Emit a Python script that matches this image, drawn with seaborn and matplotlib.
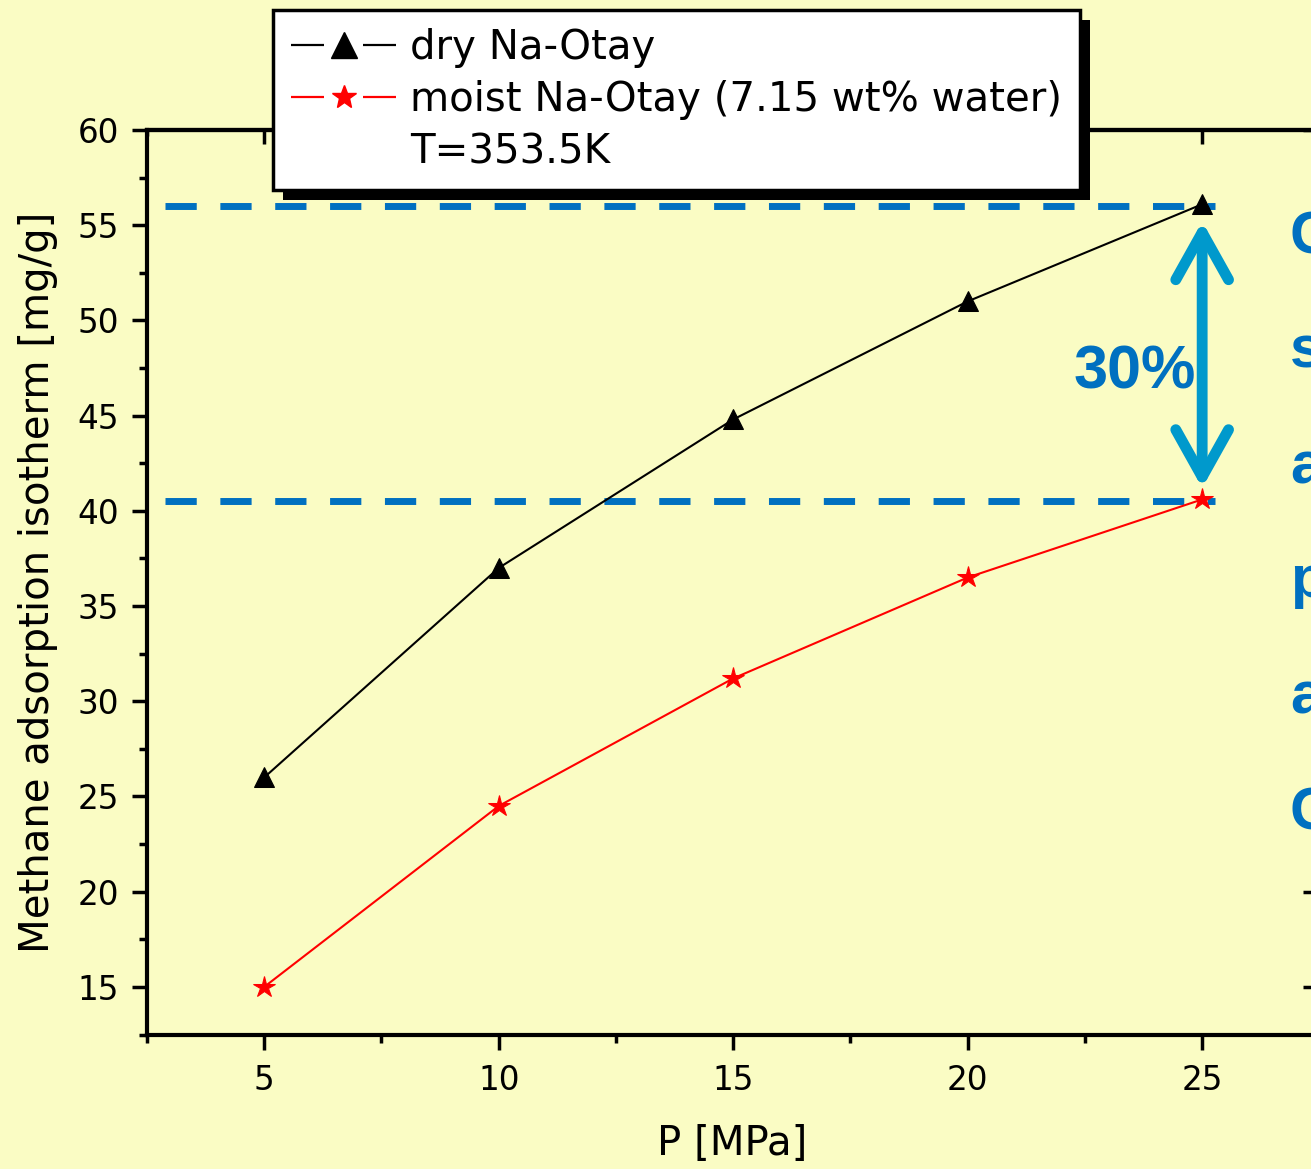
import matplotlib
matplotlib.use('Agg')
import matplotlib.pyplot as plt
import seaborn as sns
import pandas as pd
from matplotlib.lines import Line2D
from matplotlib.patches import Rectangle
from matplotlib.ticker import MultipleLocator

# ---------------- data ----------------
pressure = [5, 10, 15, 20, 25]
dry_uptake = [26.0, 37.0, 44.8, 51.0, 56.1]
moist_uptake = [15.0, 24.5, 31.2, 36.5, 40.6]
dry_label = "dry Na-Otay"
moist_label = "moist Na-Otay (7.15 wt% water)"
temp_label = "T=353.5K"
x_label = "P [MPa]"
y_label = "Methane adsorption isotherm [mg/g]"
ref_high = 56.0
ref_low = 40.5
ref_x = [2.88, 25.27]
arrow_x = 25
arrow_top = 55.2
arrow_bottom = 41.2
pct_label = "30%"
side_letters = ["C", "s", "a", "p", "a", "C"]
side_baselines = [253, 368, 483, 597, 713, 830]

# ---------------- style ----------------
BG = '#FAFCC4'
BLUE = '#0070C0'
ARROW = '#0099CC'
sns.set_theme(style='white')
plt.rcParams['font.family'] = ['DejaVu Sans']
plt.rcParams.update({'text.color': 'black', 'axes.labelcolor': 'black',
                     'xtick.color': 'black', 'ytick.color': 'black',
                     'axes.edgecolor': 'black'})

W, H = 1311, 1169
fig = plt.figure(figsize=(W / 100, H / 100), dpi=100, facecolor=BG)
ax = fig.add_axes([147 / W, (H - 1034.5) / H, (1318 - 147) / W, (1034.5 - 130) / H])
ax.set_facecolor(BG)

df = pd.DataFrame({'P': pressure, 'dry': dry_uptake, 'moist': moist_uptake})
sns.lineplot(data=df, x='P', y='dry', ax=ax, color='black', lw=1.5,
             marker='^', markersize=15, markeredgecolor='black', legend=False, zorder=4)
sns.lineplot(data=df, x='P', y='moist', ax=ax, color='red', lw=1.5,
             marker='*', markersize=16, markeredgecolor='red', legend=False, zorder=4)

# reference dashed lines
for yv in (ref_high, ref_low):
    ax.plot(ref_x, [yv, yv], color=BLUE, lw=5, ls=(0, (4.5, 3.4)),
            solid_capstyle='butt', dash_capstyle='butt', zorder=3)

# double arrow
ax.annotate('', xy=(arrow_x, arrow_top), xytext=(arrow_x, arrow_bottom),
            arrowprops=dict(arrowstyle='<->,head_length=1.7,head_width=0.95',
                            color=ARROW, lw=7.8, shrinkA=0, shrinkB=0,
                            mutation_scale=20, capstyle='round', joinstyle='round'),
            zorder=5)

ax.set_xlim(2.5, 27.47)
ax.set_ylim(12.5, 60)
ax.xaxis.set_major_locator(MultipleLocator(5))
ax.xaxis.set_minor_locator(MultipleLocator(2.5))
ax.yaxis.set_major_locator(MultipleLocator(5))
ax.yaxis.set_minor_locator(MultipleLocator(2.5))
ax.tick_params(which='major', direction='out', length=11, width=2.5, labelsize=23.5,
               bottom=True, left=True, top=False, right=False)
ax.tick_params(axis='x', which='major', pad=10)
ax.tick_params(axis='y', which='major', pad=9)
ax.tick_params(which='minor', direction='out', length=6, width=2.5,
               bottom=True, left=True, top=False, right=False)
for sp in ax.spines.values():
    sp.set_linewidth(3)
    sp.set_color('black')

secx = ax.secondary_xaxis('top')
secx.xaxis.set_major_locator(MultipleLocator(5))
secx.xaxis.set_minor_locator(MultipleLocator(2.5))
secx.tick_params(axis='x', which='major', direction='in', length=10, width=2.5, top=True,
                 labeltop=False, labelbottom=False)
secx.tick_params(axis='x', which='minor', direction='in', length=4, width=2.5, top=True)
secx.spines['top'].set_linewidth(3)
secy = ax.secondary_yaxis('right')
secy.yaxis.set_major_locator(MultipleLocator(5))
secy.yaxis.set_minor_locator(MultipleLocator(2.5))
secy.tick_params(axis='y', which='major', direction='in', length=11, width=2.5, right=True,
                 labelright=False, labelleft=False)
secy.tick_params(axis='y', which='minor', direction='in', length=4, width=2.5, right=True)
secy.spines['right'].set_linewidth(3)

ax.set_xlabel(x_label, fontsize=29, labelpad=20)
ax.set_ylabel(y_label, fontsize=29, labelpad=14)

# legend (line broken around marker, as in the reference)
FS = 29
hl_px = 105.0
lw_leg = 1.6
lw_px = lw_leg * 100 / 72
seg = 33.0 / lw_px
gap = 39.0 / lw_px
h1 = Line2D([], [], color='black', lw=lw_leg, ls=(0, (seg, gap, seg, 100)),
            marker='^', markersize=19)
h2 = Line2D([], [], color='red', lw=lw_leg, ls=(0, (seg, gap, seg, 100)),
            marker='*', markersize=18)
h3 = Line2D([], [], color='none', marker='None')
leg = ax.legend(handles=[h1, h2, h3], labels=[dry_label, moist_label, temp_label],
                loc='upper left', bbox_to_anchor=(273 / W, 1 - 10 / H),
                bbox_transform=fig.transFigure, fontsize=FS, frameon=True,
                fancybox=False, edgecolor='black', facecolor='white', framealpha=1,
                borderpad=0.45, handlelength=hl_px / (FS * 100 / 72), handletextpad=0.35,
                labelspacing=0.3, borderaxespad=0)
leg.get_frame().set_linewidth(2.5)
leg.set_zorder(10)

fig.canvas.draw()
bb = leg.get_window_extent()
shadow = Rectangle(((bb.x0 + 10) / W, (bb.y0 - 10) / H), bb.width / W, bb.height / H,
                   transform=fig.transFigure, facecolor='black', edgecolor='none',
                   clip_on=False, zorder=9)
ax.add_artist(shadow)

# cover on right side and cut-off blue text
fig.add_artist(Rectangle((1272 / W, 1 - 860 / H), 40 / W, 690 / H,
                         transform=fig.transFigure, facecolor=BG, edgecolor='none', zorder=2))
for letter, base in zip(side_letters, side_baselines):
    fig.text(1290 / W, 1 - base / H, letter, fontsize=43, fontweight='bold', color=BLUE,
             family=['Liberation Sans', 'DejaVu Sans'],
             ha='left', va='baseline', zorder=3)

fig.text(1196 / W, 1 - 388 / H, pct_label, fontsize=44, fontweight='bold', color=BLUE,
         family=['Liberation Sans', 'DejaVu Sans'],
         ha='right', va='baseline', zorder=3)

fig.savefig('out.png', dpi=100, facecolor=BG)
